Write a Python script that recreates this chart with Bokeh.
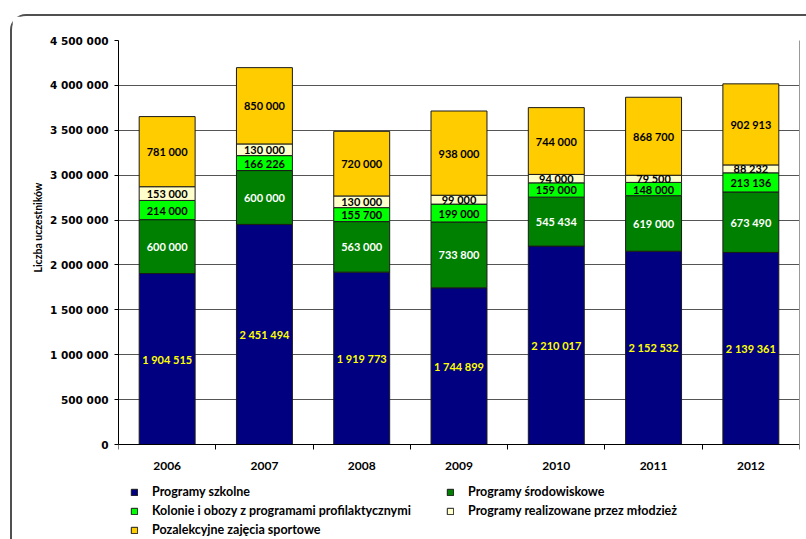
from bokeh.plotting import figure
from bokeh.layouts import column
from bokeh.models import Range1d, FixedTicker, Legend, LegendItem, ColumnDataSource, LinearAxis, Title
from bokeh.core.properties import value
from bokeh.embed import file_html
from bokeh.resources import INLINE

years = ["2006", "2007", "2008", "2009", "2010", "2011", "2012"]
szkolne = [1904515, 2451494, 1919773, 1744899, 2210017, 2152532, 2139361]
srodowiskowe = [600000, 600000, 563000, 733800, 545434, 619000, 673490]
kolonie = [214000, 166226, 155700, 199000, 159000, 148000, 213136]
mlodziez = [153000, 130000, 130000, 99000, 94000, 79500, 88232]
sportowe = [781000, 850000, 720000, 938000, 744000, 868700, 902913]

series_names = [
    "Programy szkolne",
    "Programy środowiskowe",
    "Kolonie i obozy z programami profilaktycznymi",
    "Programy realizowane przez młodzież",
    "Pozalekcyjne zajęcia sportowe",
]
series_values = [szkolne, srodowiskowe, kolonie, mlodziez, sportowe]
colors = ["#000080", "#008000", "#00FF00", "#FFFFCC", "#FFCC00"]
label_colors = ["#FFFF00", "#FFFFFF", "#000000", "#000000", "#000000"]

y_ticks = [0, 500000, 1000000, 1500000, 2000000, 2500000, 3000000, 3500000, 4000000, 4500000]
y_tick_labels = ["0", "500 000", "1 000 000", "1 500 000", "2 000 000", "2 500 000",
                 "3 000 000", "3 500 000", "4 000 000", "4 500 000"]
y_title = "Liczba uczestników"

# layout: the plot frame runs down to the page bottom; room below 0 holds labels and legend
Y_MIN = -1058000

n = len(years)
xs = [i + 0.5 for i in range(n)]
keys = ["s%d" % k for k in range(len(series_values))]
data = {"x": xs}
for k, vals in zip(keys, series_values):
    data[k] = vals
source = ColumnDataSource(data)

p = figure(width=794, height=523, output_backend="svg", toolbar_location=None,
           x_range=Range1d(0, n), y_range=Range1d(Y_MIN, y_ticks[-1]),
           min_border_left=106, min_border_right=7, min_border_top=24, min_border_bottom=0)
p.background_fill_color = "white"
p.border_fill_color = "white"
p.outline_line_color = None

renderers = p.vbar_stack(keys, x="x", width=0.575, fill_color=colors,
                         line_color="#1a1a1a", line_width=1, source=source)

# data labels
for si, vals in enumerate(series_values):
    lx, ly, lt = [], [], []
    for i, v in enumerate(vals):
        base = sum(series_values[j][i] for j in range(si))
        lx.append(xs[i])
        ly.append(base + v / 2.0)
        lt.append("{:,}".format(v).replace(",", " "))
    p.text(x=lx, y=ly, text=lt, text_color=label_colors[si],
           text_font=value("Lato"), text_font_style="bold", text_font_size="11px",
           text_align="center", text_baseline="middle")

# x axis drawn at y = 0
p.xaxis.fixed_location = 0
p.xaxis.ticker = FixedTicker(ticks=xs, minor_ticks=list(range(n + 1)))
p.xaxis.major_label_overrides = {x: y for x, y in zip(xs, years)}
p.xaxis.major_tick_out = 0
p.xaxis.major_tick_in = 0
p.xaxis.minor_tick_out = 5
p.xaxis.minor_tick_in = 0
p.xaxis.minor_tick_line_color = "black"
p.xaxis.axis_line_color = "black"
p.xaxis.major_label_standoff = 12
p.xaxis.major_label_text_font = "Lato"
p.xaxis.major_label_text_font_style = "bold"
p.xaxis.major_label_text_font_size = "12px"
p.xaxis.major_label_text_color = "black"

p.yaxis.bounds = (0, y_ticks[-1])
p.yaxis.ticker = FixedTicker(ticks=y_ticks, minor_ticks=[])
p.yaxis.major_label_overrides = {t: l for t, l in zip(y_ticks, y_tick_labels)}
p.yaxis.major_tick_out = 4
p.yaxis.major_tick_in = 0
p.yaxis.minor_tick_out = 0
p.yaxis.minor_tick_in = 0
p.yaxis.axis_line_color = "black"
p.yaxis.major_tick_line_color = "black"
p.yaxis.major_label_standoff = 6
p.yaxis.major_label_text_font = "DejaVu Sans"
p.yaxis.major_label_text_font_style = "bold"
p.yaxis.major_label_text_font_size = "10.5px"
p.yaxis.major_label_text_color = "black"

# y axis title, placed alongside the 0 .. 4.5M span
p.add_layout(Title(text=y_title, align="left", offset=267, standoff=8,
                   text_font="Lato", text_font_size="10.5px", text_font_style="bold",
                   text_color="black"), "left")

# right border of the plot area
right_axis = LinearAxis(bounds=(0, y_ticks[-1]), ticker=FixedTicker(ticks=[]),
                        axis_line_color="#999999", major_tick_out=0, major_tick_in=0,
                        minor_tick_out=0, minor_tick_in=0)
p.add_layout(right_axis, "right")

p.xgrid.visible = False
p.ygrid.ticker = FixedTicker(ticks=y_ticks)
p.ygrid.grid_line_color = "#555555"
p.ygrid.grid_line_width = 1

# legend: two columns inside the lower part of the frame
leg = Legend(items=[LegendItem(label=series_names[i], renderers=[renderers[i]]) for i in range(5)],
             location=(12, 2), orientation="horizontal", ncols=2)
leg.glyph_width = 8
leg.glyph_height = 8
leg.label_height = 14
leg.label_width = 290
leg.spacing = 4
leg.label_standoff = 14
leg.padding = 0
leg.margin = 0
leg.border_line_alpha = 0
leg.background_fill_alpha = 0
leg.label_text_font = "Lato"
leg.label_text_font_style = "bold"
leg.label_text_font_size = "12.5px"
leg.label_text_color = "black"
p.add_layout(leg, "center")

page = column(p, styles={"margin-left": "10px", "margin-top": "14px",
                         "border-left": "2px solid #505050", "border-top": "2px solid #505050",
                         "border-top-left-radius": "16px"})

open("out.html", "w").write(file_html(page, INLINE))
